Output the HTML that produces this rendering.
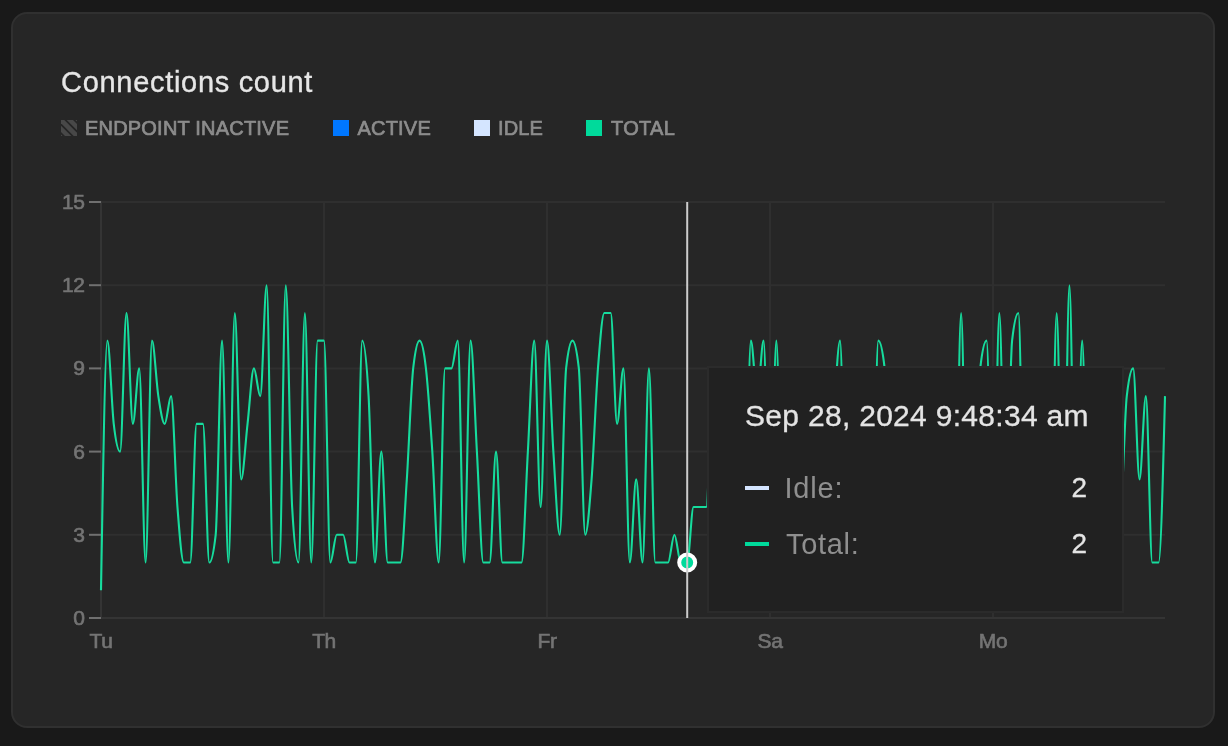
<!DOCTYPE html>
<html lang="en">
<head>
<meta charset="utf-8">
<title>Connections count</title>
<style>
  html, body { margin: 0; padding: 0; }
  body {
    width: 1228px; height: 746px; overflow: hidden; position: relative;
    background: #191919;
    font-family: "Liberation Sans", sans-serif;
  }
  .card {
    position: absolute; left: 11px; top: 12px; width: 1200px; height: 712px;
    border: 2px solid #303030; border-radius: 16px; background: #262626;
  }
  .title, .legend, .tip, svg.chart { will-change: transform; }
  .title {
    position: absolute; left: 61px; top: 62px; font-size: 29px; line-height: 40px;
    color: #e6e6e6; white-space: nowrap; letter-spacing: 0.7px; -webkit-text-stroke: 0.35px #e6e6e6;
  }
  .legend { position: absolute; top: 120px; height: 16px; }
  .legend .sw { position: absolute; left: 0; top: 0; width: 16px; height: 16px; }
  .legend .lb {
    position: absolute; left: 24px; top: -5.5px; font-size: 20px; line-height: 26px; font-weight: normal; -webkit-text-stroke: 0.7px #8c8c8c;
    color: #8c8c8c; white-space: nowrap; letter-spacing: 0.1px;
  }
  svg.chart { position: absolute; left: 0; top: 0; }
  svg.chart text { font-family: "Liberation Sans", sans-serif; font-size: 21px; fill: #747474; stroke: #747474; stroke-width: 0.65px; letter-spacing: -0.4px; }
  .tip {
    position: absolute; left: 707px; top: 366px; width: 413px; height: 243px;
    border: 2px solid #2b2b2b; background: #212121; box-sizing: content-box;
  }
  .tip .t {
    position: absolute; left: 36px; top: 28px; font-size: 30px; line-height: 40px; color: #e4e4e4; white-space: nowrap; letter-spacing: 0.3px; -webkit-text-stroke: 0.3px #e4e4e4;
  }
  .tip .row { position: absolute; left: 36px; width: 342px; height: 40px; }
  .tip .row .mk { position: absolute; left: 0; top: 18px; width: 24px; height: 4px; }
  .tip .row .nm { position: absolute; left: 41px; top: 0; font-size: 29px; line-height: 40px; color: #8f8f8f; white-space: nowrap; letter-spacing: 0.3px; }
  .tip .row .vl { position: absolute; right: 0; top: 0; font-size: 28px; line-height: 40px; color: #e4e4e4; -webkit-text-stroke: 0.3px #e4e4e4; }
</style>
</head>
<body>
<div class="card"></div>

<div class="title">Connections count</div>

<div class="legend" style="left:61px">
  <svg class="sw" width="16" height="16" viewBox="0 0 16 16">
    <defs><clipPath id="c"><rect width="16" height="16"/></clipPath></defs>
    <rect width="16" height="16" fill="#484848"/>
    <g clip-path="url(#c)" stroke="#252525" stroke-width="1.7">
      <line x1="3.5" y1="-1" x2="17" y2="12.5"/>
      <line x1="12.2" y1="-1" x2="17" y2="3.8"/>
      <line x1="-1" y1="3.5" x2="12.5" y2="17"/>
      <line x1="-1" y1="12.2" x2="3.8" y2="17"/>
    </g>
  </svg>
  <span class="lb" style="letter-spacing:0.2px">ENDPOINT INACTIVE</span>
</div>
<div class="legend" style="left:333px"><span class="sw" style="background:#0077ff"></span><span class="lb" style="left:24.5px;letter-spacing:0.2px">ACTIVE</span></div>
<div class="legend" style="left:474px"><span class="sw" style="background:#d4e5ff"></span><span class="lb">IDLE</span></div>
<div class="legend" style="left:586px"><span class="sw" style="background:#00da9b"></span><span class="lb" style="left:25px;letter-spacing:0.3px">TOTAL</span></div>

<svg class="chart" width="1228" height="746" viewBox="0 0 1228 746">
  <!-- grid -->
  <g stroke="#2f2f2f" stroke-width="2" fill="none">
    <line x1="101" y1="202" x2="1165" y2="202"/>
    <line x1="101" y1="285.2" x2="1165" y2="285.2"/>
    <line x1="101" y1="368.4" x2="1165" y2="368.4"/>
    <line x1="101" y1="451.6" x2="1165" y2="451.6"/>
    <line x1="101" y1="534.8" x2="1165" y2="534.8"/>
    <line x1="324" y1="202" x2="324" y2="618"/>
    <line x1="547" y1="202" x2="547" y2="618"/>
    <line x1="770" y1="202" x2="770" y2="618"/>
    <line x1="993" y1="202" x2="993" y2="618"/>
  </g>
  <!-- axes -->
  <g stroke="#343434" stroke-width="2" fill="none">
    <line x1="101" y1="201" x2="101" y2="619"/>
    <line x1="100" y1="618" x2="1165" y2="618"/>
  </g>
  <!-- y ticks -->
  <g stroke="#707070" stroke-width="2">
    <line x1="89" y1="202" x2="101" y2="202"/>
    <line x1="89" y1="285.2" x2="101" y2="285.2"/>
    <line x1="89" y1="368.4" x2="101" y2="368.4"/>
    <line x1="89" y1="451.6" x2="101" y2="451.6"/>
    <line x1="89" y1="534.8" x2="101" y2="534.8"/>
    <line x1="89" y1="618" x2="101" y2="618"/>
  </g>
  <g text-anchor="end">
    <text x="84.5" y="209.0">15</text>
    <text x="84.5" y="292.2">12</text>
    <text x="84.5" y="375.4">9</text>
    <text x="84.5" y="458.6">6</text>
    <text x="84.5" y="541.8">3</text>
    <text x="84.5" y="625.0">0</text>
  </g>
  <g text-anchor="middle">
    <text x="101" y="648">Tu</text>
    <text x="324" y="648">Th</text>
    <text x="547" y="648">Fr</text>
    <text x="770" y="648">Sa</text>
    <text x="993" y="648">Mo</text>
  </g>
  <!-- total line -->
  <path d="M101.00,590.27C103.12,465.47,105.25,340.67,107.37,340.67C109.50,340.67,111.62,405.38,113.74,423.87C115.87,442.36,117.99,451.60,120.11,451.60C122.24,451.60,124.36,312.93,126.49,312.93C128.61,312.93,130.73,423.87,132.86,423.87C134.98,423.87,137.10,368.40,139.23,368.40C141.35,368.40,143.48,562.53,145.60,562.53C147.72,562.53,149.85,340.67,151.97,340.67C154.09,340.67,156.22,382.27,158.34,396.13C160.47,410.00,162.59,423.87,164.71,423.87C166.84,423.87,168.96,396.13,171.08,396.13C173.21,396.13,175.33,479.33,177.46,507.07C179.58,534.80,181.70,562.53,183.83,562.53C185.95,562.53,188.07,562.53,190.20,562.53C192.32,562.53,194.45,423.87,196.57,423.87C198.69,423.87,200.82,423.87,202.94,423.87C205.06,423.87,207.19,562.53,209.31,562.53C211.44,562.53,213.56,553.29,215.68,534.80C217.81,516.31,219.93,340.67,222.05,340.67C224.18,340.67,226.30,562.53,228.43,562.53C230.55,562.53,232.67,312.93,234.80,312.93C236.92,312.93,239.04,479.33,241.17,479.33C243.29,479.33,245.42,442.36,247.54,423.87C249.66,405.38,251.79,368.40,253.91,368.40C256.03,368.40,258.16,396.13,260.28,396.13C262.41,396.13,264.53,285.20,266.65,285.20C268.78,285.20,270.90,562.53,273.02,562.53C275.15,562.53,277.27,562.53,279.40,562.53C281.52,562.53,283.64,285.20,285.77,285.20C287.89,285.20,290.01,470.09,292.14,507.07C294.26,544.04,296.39,562.53,298.51,562.53C300.63,562.53,302.76,312.93,304.88,312.93C307.00,312.93,309.13,562.53,311.25,562.53C313.38,562.53,315.50,340.67,317.62,340.67C319.75,340.67,321.87,340.67,323.99,340.67C326.12,340.67,328.24,562.53,330.37,562.53C332.49,562.53,334.61,534.80,336.74,534.80C338.86,534.80,340.98,534.80,343.11,534.80C345.23,534.80,347.36,562.53,349.48,562.53C351.60,562.53,353.73,562.53,355.85,562.53C357.97,562.53,360.10,340.67,362.22,340.67C364.35,340.67,366.47,359.16,368.59,396.13C370.72,433.11,372.84,562.53,374.96,562.53C377.09,562.53,379.21,451.60,381.34,451.60C383.46,451.60,385.58,562.53,387.71,562.53C389.83,562.53,391.95,562.53,394.08,562.53C396.20,562.53,398.33,562.53,400.45,562.53C402.57,562.53,404.70,511.69,406.82,479.33C408.94,446.98,411.07,386.89,413.19,368.40C415.32,349.91,417.44,340.67,419.56,340.67C421.69,340.67,423.81,349.91,425.93,368.40C428.06,386.89,430.18,419.24,432.31,451.60C434.43,483.96,436.55,562.53,438.68,562.53C440.80,562.53,442.92,368.40,445.05,368.40C447.17,368.40,449.30,368.40,451.42,368.40C453.54,368.40,455.67,340.67,457.79,340.67C459.91,340.67,462.04,562.53,464.16,562.53C466.29,562.53,468.41,340.67,470.53,340.67C472.66,340.67,474.78,414.62,476.90,451.60C479.03,488.58,481.15,562.53,483.28,562.53C485.40,562.53,487.52,562.53,489.65,562.53C491.77,562.53,493.89,451.60,496.02,451.60C498.14,451.60,500.27,562.53,502.39,562.53C504.51,562.53,506.64,562.53,508.76,562.53C510.88,562.53,513.01,562.53,515.13,562.53C517.26,562.53,519.38,562.53,521.50,562.53C523.63,562.53,525.75,488.58,527.87,451.60C530.00,414.62,532.12,340.67,534.25,340.67C536.37,340.67,538.49,507.07,540.62,507.07C542.74,507.07,544.86,340.67,546.99,340.67C549.11,340.67,551.24,419.24,553.36,451.60C555.48,483.96,557.61,534.80,559.73,534.80C561.85,534.80,563.98,386.89,566.10,368.40C568.23,349.91,570.35,340.67,572.47,340.67C574.60,340.67,576.72,349.91,578.84,368.40C580.97,386.89,583.09,534.80,585.22,534.80C587.34,534.80,589.46,507.07,591.59,479.33C593.71,451.60,595.83,396.13,597.96,368.40C600.08,340.67,602.21,312.93,604.33,312.93C606.45,312.93,608.58,312.93,610.70,312.93C612.82,312.93,614.95,423.87,617.07,423.87C619.20,423.87,621.32,368.40,623.44,368.40C625.57,368.40,627.69,562.53,629.81,562.53C631.94,562.53,634.06,479.33,636.19,479.33C638.31,479.33,640.43,562.53,642.56,562.53C644.68,562.53,646.80,368.40,648.93,368.40C651.05,368.40,653.18,562.53,655.30,562.53C657.42,562.53,659.55,562.53,661.67,562.53C663.79,562.53,665.92,562.53,668.04,562.53C670.17,562.53,672.29,534.80,674.41,534.80C676.54,534.80,678.66,562.53,680.78,562.53C682.91,562.53,685.03,562.53,687.16,562.53C689.28,562.53,691.40,507.07,693.53,507.07C695.65,507.07,697.77,507.07,699.90,507.07C702.02,507.07,704.15,507.07,706.27,507.07C708.39,507.07,710.52,396.13,712.64,396.13C714.76,396.13,716.89,456.22,719.01,479.33C721.14,502.44,723.26,534.80,725.38,534.80C727.51,534.80,729.63,534.80,731.75,534.80C733.88,534.80,736.00,562.53,738.13,562.53C740.25,562.53,742.37,562.53,744.50,562.53C746.62,562.53,748.74,340.67,750.87,340.67C752.99,340.67,755.12,396.13,757.24,396.13C759.36,396.13,761.49,340.67,763.61,340.67C765.73,340.67,767.86,562.53,769.98,562.53C772.11,562.53,774.23,340.67,776.35,340.67C778.48,340.67,780.60,562.53,782.72,562.53C784.85,562.53,786.97,562.53,789.10,562.53C791.22,562.53,793.34,525.56,795.47,507.07C797.59,488.58,799.71,451.60,801.84,451.60C803.96,451.60,806.09,516.31,808.21,534.80C810.33,553.29,812.46,562.53,814.58,562.53C816.70,562.53,818.83,562.53,820.95,562.53C823.08,562.53,825.20,562.53,827.32,562.53C829.45,562.53,831.57,460.84,833.69,423.87C835.82,386.89,837.94,340.67,840.07,340.67C842.19,340.67,844.31,562.53,846.44,562.53C848.56,562.53,850.68,562.53,852.81,562.53C854.93,562.53,857.06,562.53,859.18,562.53C861.30,562.53,863.43,534.80,865.55,534.80C867.67,534.80,869.80,562.53,871.92,562.53C874.05,562.53,876.17,340.67,878.29,340.67C880.42,340.67,882.54,349.91,884.66,368.40C886.79,386.89,888.91,516.31,891.04,534.80C893.16,553.29,895.28,562.53,897.41,562.53C899.53,562.53,901.65,562.53,903.78,562.53C905.90,562.53,908.03,502.44,910.15,479.33C912.27,456.22,914.40,423.87,916.52,423.87C918.64,423.87,920.77,516.31,922.89,534.80C925.02,553.29,927.14,562.53,929.26,562.53C931.39,562.53,933.51,562.53,935.63,562.53C937.76,562.53,939.88,562.53,942.01,562.53C944.13,562.53,946.25,562.53,948.38,562.53C950.50,562.53,952.62,562.53,954.75,562.53C956.87,562.53,959.00,312.93,961.12,312.93C963.24,312.93,965.37,562.53,967.49,562.53C969.61,562.53,971.74,562.53,973.86,562.53C975.99,562.53,978.11,386.89,980.23,368.40C982.36,349.91,984.48,340.67,986.60,340.67C988.73,340.67,990.85,562.53,992.98,562.53C995.10,562.53,997.22,312.93,999.35,312.93C1001.47,312.93,1003.59,534.80,1005.72,534.80C1007.84,534.80,1009.97,359.16,1012.09,340.67C1014.21,322.18,1016.34,312.93,1018.46,312.93C1020.58,312.93,1022.71,562.53,1024.83,562.53C1026.96,562.53,1029.08,562.53,1031.20,562.53C1033.33,562.53,1035.45,534.80,1037.57,534.80C1039.70,534.80,1041.82,562.53,1043.95,562.53C1046.07,562.53,1048.19,562.53,1050.32,562.53C1052.44,562.53,1054.56,312.93,1056.69,312.93C1058.81,312.93,1060.94,562.53,1063.06,562.53C1065.18,562.53,1067.31,285.20,1069.43,285.20C1071.55,285.20,1073.68,562.53,1075.80,562.53C1077.93,562.53,1080.05,340.67,1082.17,340.67C1084.30,340.67,1086.42,562.53,1088.54,562.53C1090.67,562.53,1092.79,562.53,1094.92,562.53C1097.04,562.53,1099.16,525.56,1101.29,507.07C1103.41,488.58,1105.53,451.60,1107.66,451.60C1109.78,451.60,1111.91,507.07,1114.03,507.07C1116.15,507.07,1118.28,507.07,1120.40,507.07C1122.52,507.07,1124.65,414.62,1126.77,396.13C1128.90,377.64,1131.02,368.40,1133.14,368.40C1135.27,368.40,1137.39,479.33,1139.51,479.33C1141.64,479.33,1143.76,396.13,1145.89,396.13C1148.01,396.13,1150.13,562.53,1152.26,562.53C1154.38,562.53,1156.50,562.53,1158.63,562.53C1160.75,562.53,1162.88,479.33,1165.00,396.13" fill="none" stroke="#16dc9d" stroke-width="2.1" stroke-linejoin="round" stroke-linecap="butt"/>
  <!-- active dot -->
  <circle cx="687.2" cy="562.5" r="8" fill="#00da9b" stroke="#ffffff" stroke-width="4"/>
  <!-- cursor -->
  <line x1="687.2" y1="202" x2="687.2" y2="618" stroke="#cccccc" stroke-width="2"/>
</svg>

<div class="tip">
  <div class="t">Sep 28, 2024 9:48:34 am</div>
  <div class="row" style="top:100px"><span class="mk" style="background:#d4e5ff"></span><span class="nm" style="left:39.5px;letter-spacing:0.8px">Idle:</span><span class="vl">2</span></div>
  <div class="row" style="top:156px"><span class="mk" style="background:#00da9b"></span><span class="nm" style="letter-spacing:0.7px">Total:</span><span class="vl">2</span></div>
</div>
</body>
</html>
